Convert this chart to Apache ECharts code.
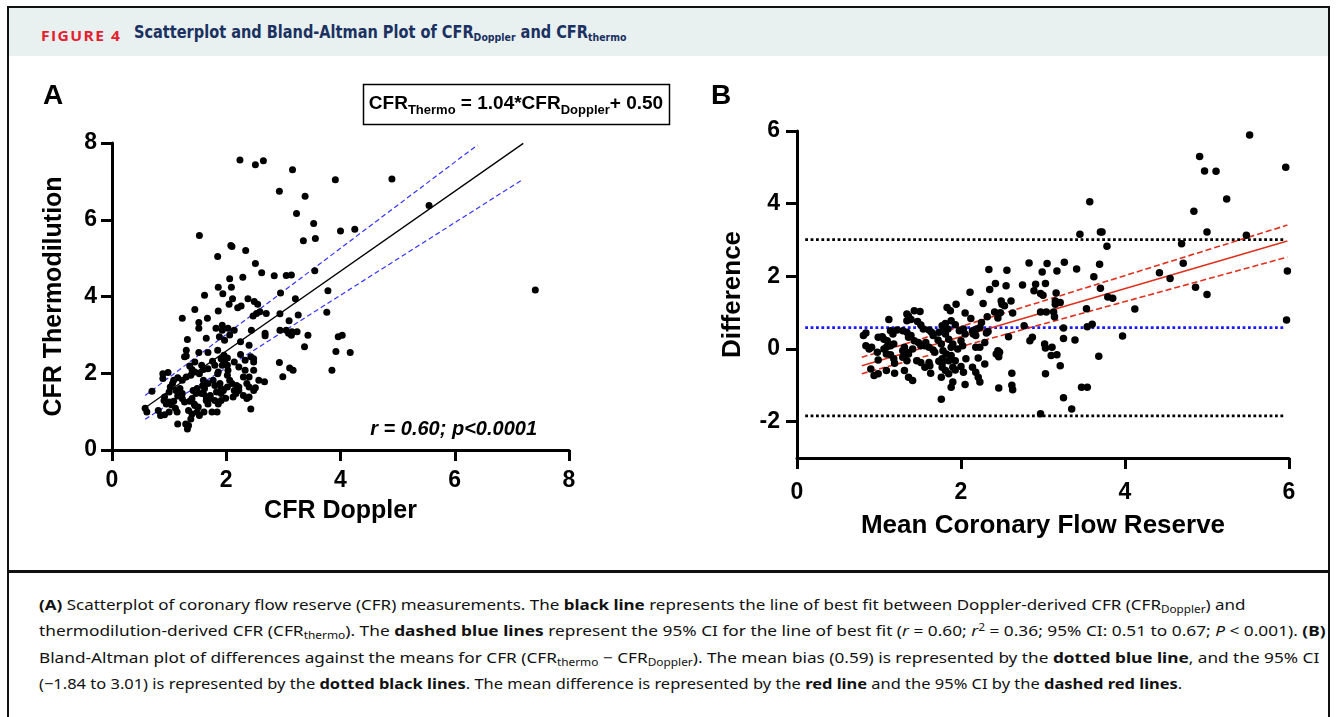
<!DOCTYPE html>
<html>
<head>
<meta charset="utf-8">
<script src="https://cdn.jsdelivr.net/npm/echarts@6/dist/echarts.min.js"></script>
<style>
html, body { margin: 0; padding: 0; background: #fff; }
#wrap { position: relative; width: 1336px; height: 717px; overflow: hidden; }
#frame { position: absolute; left: 7px; top: 6px; width: 1319px; height: 730px; border: 2px solid #111; border-bottom: none; }
#hdr { position: absolute; left: 9px; top: 8px; width: 1319px; height: 48px; background: #e8f0f0; }
#divider { position: absolute; left: 7px; top: 570px; width: 1323px; height: 3px; background: #111; }
.fit { position: absolute; white-space: nowrap; transform-origin: 0 50%; display: inline-block; }
#fig { left: 41px; top: 25px; color: #e5202e; font: bold 15px 'Open Sans', sans-serif; letter-spacing: 1.4px; }
#ttl { left: 134px; top: 22px; color: #1b3160; font: bold 17px 'Liberation Sans Narrow', 'DejaVu Sans Condensed', 'Open Sans', sans-serif; }
#ttl sub { font-size: 11px; vertical-align: -3px; }
.cap { left: 39px; color: #111; font: 14.5px 'Noto Sans', sans-serif; line-height: 20px; }
.cap sub { font-size: 10px; vertical-align: -3px; line-height: 0; }
.cap sup { font-size: 10px; vertical-align: 5px; line-height: 0; }
#chart { position: absolute; left: 0; top: 0; width: 1336px; height: 717px; z-index: 2; }
</style>
</head>
<body>
<div id="wrap">
  <div id="hdr"></div>
  <div id="frame"></div>
  <div id="divider"></div>
  <span id="fig" class="fit" data-w="80">FIGURE 4</span>
  <span id="ttl" class="fit" data-w="492">Scatterplot and Bland-Altman Plot of CFR<sub>Doppler</sub> and CFR<sub>thermo</sub></span>
  <span class="fit cap" style="top:594px" data-w="1207"><b>(A)</b> Scatterplot of coronary flow reserve (CFR) measurements. The <b>black line</b> represents the line of best fit between Doppler-derived CFR (CFR<sub>Doppler</sub>) and</span>
  <span class="fit cap" style="top:620px" data-w="1286">thermodilution-derived CFR (CFR<sub>thermo</sub>). The <b>dashed blue lines</b> represent the 95% CI for the line of best fit (<i>r</i> = 0.60; <i>r</i><sup>2</sup> = 0.36; 95% CI: 0.51 to 0.67; <i>P</i> &lt; 0.001). <b>(B)</b></span>
  <span class="fit cap" style="top:647px" data-w="1280">Bland-Altman plot of differences against the means for CFR (CFR<sub>thermo</sub> &minus; CFR<sub>Doppler</sub>). The mean bias (0.59) is represented by the <b>dotted blue line</b>, and the 95% CI</span>
  <span class="fit cap" style="top:673px" data-w="1143">(&minus;1.84 to 3.01) is represented by the <b>dotted black lines</b>. The mean difference is represented by the <b>red line</b> and the 95% CI by the <b>dashed red lines</b>.</span>
  <div id="chart"></div>
</div>
<script>
// 文本宽度对齐原图
var fits = document.querySelectorAll('.fit');
for (var k = 0; k < fits.length; k++) {
    var w = +fits[k].getAttribute('data-w');
    fits[k].style.transform = 'scaleX(' + (w / fits[k].offsetWidth) + ')';
}

// A: CFR Doppler vs CFR Thermodilution
var scatterA = [[2.24,7.56],[2.51,7.43],[2.65,7.54],[3.16,7.30],[3.91,7.04],[4.90,7.06],[2.93,6.74],[3.38,6.61],[5.55,6.37],[3.23,6.16],[3.53,5.90],[1.53,5.59],[4.00,5.71],[4.25,5.75],[3.35,5.45],[3.56,5.51],[2.08,5.33],[2.10,5.30],[1.85,5.04],[2.34,5.20],[2.51,4.86],[2.62,4.62],[2.84,4.54],[3.05,4.55],[3.14,4.56],[3.55,4.67],[2.06,4.46],[2.29,4.50],[1.86,4.24],[2.09,4.24],[1.94,4.07],[2.95,4.09],[3.78,4.15],[7.41,4.17],[1.62,4.03],[2.11,3.94],[2.38,3.94],[3.21,3.94],[2.05,3.80],[2.26,3.75],[2.20,3.71],[2.49,3.87],[2.55,3.80],[1.23,3.43],[1.45,3.66],[1.67,3.43],[1.52,3.32],[1.52,3.17],[1.86,3.62],[2.70,3.56],[2.53,3.56],[2.59,3.60],[2.47,3.49],[2.94,3.55],[3.26,3.52],[3.76,3.59],[3.10,3.37],[1.93,3.25],[1.93,3.12],[1.82,3.17],[2.03,3.17],[2.06,3.00],[2.14,3.12],[2.44,3.12],[2.68,3.04],[2.68,2.98],[2.94,3.12],[3.05,3.12],[3.09,3.04],[3.15,3.08],[3.24,3.08],[3.43,2.99],[3.14,2.99],[4.03,2.99],[3.96,2.95],[1.32,2.88],[1.65,2.91],[1.88,2.95],[1.97,2.86],[2.25,2.82],[3.37,2.69],[2.40,2.73],[1.30,2.60],[1.30,2.45],[1.27,2.43],[1.52,2.54],[1.68,2.54],[1.85,2.60],[3.92,2.57],[4.17,2.54],[1.96,2.47],[1.91,2.38],[2.02,2.40],[2.25,2.49],[2.43,2.43],[2.48,2.38],[1.45,2.29],[1.36,2.19],[1.57,2.21],[1.76,2.31],[1.80,2.21],[1.68,2.12],[1.60,2.10],[1.97,2.29],[1.93,2.21],[2.02,2.21],[2.14,2.29],[2.22,2.16],[2.33,2.34],[2.48,2.29],[2.93,2.28],[3.11,2.14],[3.17,2.08],[3.85,2.08],[1.40,2.10],[1.45,2.03],[1.53,1.99],[1.85,1.99],[1.86,2.03],[2.03,2.08],[2.02,1.95],[2.33,2.08],[2.30,1.90],[2.40,1.90],[2.48,2.08],[2.99,1.91],[0.89,1.99],[0.98,2.02],[0.89,1.86],[1.15,1.88],[1.23,1.82],[1.30,1.90],[1.38,1.95],[1.08,1.82],[1.06,1.73],[1.02,1.64],[1.60,1.82],[1.68,1.73],[1.59,1.68],[1.62,1.60],[1.77,1.82],[1.80,1.68],[1.89,1.73],[1.91,1.60],[1.83,1.51],[2.06,1.82],[2.10,1.73],[2.02,1.64],[2.18,1.68],[2.22,1.64],[2.14,1.55],[2.36,1.73],[2.40,1.64],[2.57,1.82],[2.67,1.78],[2.48,1.55],[2.51,1.62],[0.70,1.53],[1.00,1.51],[1.12,1.55],[1.19,1.60],[1.42,1.55],[1.49,1.60],[1.47,1.47],[1.57,1.47],[1.23,1.47],[1.15,1.41],[0.92,1.38],[1.60,1.47],[1.65,1.38],[1.72,1.42],[1.91,1.47],[1.95,1.55],[2.22,1.55],[2.17,1.47],[2.30,1.42],[1.99,1.35],[1.91,1.29],[2.12,1.38],[0.91,1.29],[0.95,1.20],[1.00,1.25],[1.08,1.27],[1.04,1.18],[1.23,1.34],[1.27,1.25],[1.40,1.34],[1.36,1.27],[1.44,1.20],[1.65,1.29],[1.72,1.34],[1.68,1.20],[1.80,1.29],[1.86,1.20],[2.36,1.34],[2.40,1.38],[1.45,1.16],[1.51,1.12],[0.58,1.09],[0.61,0.99],[0.81,1.03],[0.85,0.90],[0.92,0.92],[1.00,0.99],[1.11,1.09],[1.14,0.99],[1.34,1.03],[1.40,0.94],[1.49,0.99],[1.53,0.90],[1.61,0.99],[1.75,0.99],[1.84,0.99],[2.43,1.07],[1.15,0.68],[1.29,0.68],[1.34,0.64],[1.32,0.55],[1.38,0.81]];
var fitLineA = [[0.58, 1.10], [7.20, 7.99]];
var ciUpperA = [[0.58, 1.42], [6.40, 7.95]];
var ciLowerA = [[0.58, 0.80], [7.18, 7.04]];

// B: Bland-Altman
var scatterB = [[5.52,5.89],[4.91,5.30],[4.97,4.90],[5.11,4.89],[5.96,5.00],[5.24,4.13],[3.57,4.05],[4.84,3.79],[3.45,3.16],[3.70,3.22],[3.72,3.22],[5.00,3.22],[5.48,3.13],[3.78,2.83],[4.69,2.90],[4.71,2.36],[3.69,2.33],[2.83,2.37],[3.05,2.35],[3.26,2.39],[2.34,2.19],[2.56,2.17],[3.41,2.20],[2.99,2.12],[3.17,2.15],[5.98,2.15],[4.42,2.10],[3.62,1.99],[4.55,1.94],[2.42,1.80],[2.55,1.74],[2.75,1.76],[2.91,1.78],[3.03,1.80],[2.35,1.64],[3.70,1.67],[4.86,1.70],[2.11,1.56],[2.89,1.60],[2.97,1.53],[3.00,1.48],[3.16,1.54],[5.00,1.50],[3.79,1.43],[3.85,1.40],[2.49,1.32],[2.61,1.32],[2.50,1.23],[2.53,1.19],[2.27,1.25],[1.94,1.23],[1.83,1.14],[1.87,1.05],[3.15,1.32],[3.21,1.28],[3.15,1.23],[3.53,1.11],[4.12,1.10],[1.43,1.05],[1.50,1.03],[1.12,0.81],[1.34,0.96],[2.41,1.02],[2.48,1.00],[2.63,0.99],[2.05,0.99],[2.12,0.84],[2.32,0.89],[2.45,0.85],[2.97,1.02],[3.04,1.02],[3.13,1.02],[3.14,0.89],[1.36,0.90],[1.39,0.81],[1.34,0.78],[1.47,0.76],[1.51,0.66],[1.54,0.55],[5.97,0.80],[1.88,0.78],[1.81,0.70],[1.77,0.64],[1.84,0.55],[1.93,0.67],[2.25,0.73],[2.23,0.59],[2.19,0.55],[2.77,0.64],[3.25,0.58],[3.54,0.61],[3.60,0.68],[0.84,0.44],[0.81,0.37],[1.14,0.50],[1.22,0.52],[1.17,0.41],[1.29,0.50],[1.34,0.46],[1.39,0.37],[1.36,0.32],[1.61,0.52],[1.64,0.46],[1.66,0.37],[1.73,0.46],[1.78,0.48],[1.81,0.41],[1.98,0.50],[2.03,0.55],[2.05,0.41],[2.14,0.50],[2.15,0.41],[2.18,0.37],[2.31,0.44],[2.33,0.48],[2.58,0.34],[2.87,0.32],[2.84,0.23],[3.97,0.36],[0.99,0.32],[1.06,0.27],[1.04,0.34],[1.10,0.23],[1.18,0.14],[1.14,0.09],[1.43,0.23],[1.48,0.18],[1.51,0.09],[1.57,0.18],[1.56,0.09],[1.72,0.25],[1.76,0.14],[1.85,0.27],[1.90,0.14],[1.88,0.05],[2.00,0.23],[2.02,0.09],[1.96,0.00],[2.29,0.18],[3.39,0.25],[3.25,0.29],[0.84,0.09],[0.88,0.00],[0.91,0.05],[1.06,0.00],[1.09,0.05],[1.31,0.05],[1.29,-0.05],[1.34,-0.09],[1.41,0.00],[1.36,-0.14],[1.61,0.05],[1.66,-0.03],[1.68,-0.09],[1.78,-0.05],[1.82,-0.14],[2.18,0.05],[2.23,0.05],[2.45,-0.05],[2.47,-0.09],[3.02,0.14],[3.03,0.03],[3.11,0.05],[0.98,-0.09],[0.99,-0.30],[1.09,-0.14],[1.14,-0.16],[1.18,-0.27],[1.19,-0.39],[1.29,-0.23],[1.34,-0.32],[1.46,-0.32],[1.51,-0.37],[1.61,-0.37],[1.62,-0.46],[1.73,-0.34],[1.77,-0.27],[1.77,-0.39],[1.85,-0.32],[1.88,-0.18],[1.93,-0.32],[2.06,-0.27],[2.21,-0.25],[2.43,-0.14],[2.46,-0.21],[3.10,-0.18],[3.17,-0.16],[3.68,-0.20],[0.90,-0.55],[0.94,-0.73],[0.99,-0.68],[1.09,-0.59],[1.19,-0.67],[1.31,-0.59],[1.36,-0.78],[1.41,-0.87],[1.56,-0.50],[1.63,-0.67],[1.77,-0.50],[1.81,-0.59],[1.90,-0.50],[1.93,-0.58],[1.85,-0.68],[2.00,-0.48],[2.03,-0.64],[2.14,-0.50],[2.18,-0.64],[2.29,-0.41],[2.62,-0.67],[3.03,-0.68],[3.21,-0.46],[1.76,-0.78],[2.21,-0.78],[2.23,-0.91],[1.90,-0.91],[1.88,-1.05],[2.05,-0.98],[2.46,-1.07],[2.62,-1.00],[2.63,-1.12],[3.47,-1.05],[3.54,-1.05],[1.76,-1.38],[3.25,-1.34],[3.35,-1.65],[2.97,-1.78]];
var meanLineB = [[0.79, -0.46], [5.98, 2.97]];
var ciUpperB = [[0.79, -0.23], [5.98, 3.41]];
var ciLowerB = [[0.79, -0.68], [5.98, 2.53]];
var bias = 0.59;
var loaUpper = 3.01;
var loaLower = -1.84;
var limitRange = [0.1, 5.96];

var ticksBy = [-2, 0, 2, 4, 6];

var FONT = '"Liberation Sans", Arial, sans-serif';

function hline(v) {
    return [[limitRange[0], v], [limitRange[1], v]];
}

function axisBase(name, gap, labelMargin, nameSize) {
    return {
        type: 'value',
        name: name,
        nameLocation: 'middle',
        nameGap: gap,
        nameTextStyle: { fontFamily: FONT, fontWeight: 'bold', fontSize: nameSize, color: '#000' },
        axisLine: { show: true, onZero: false, lineStyle: { color: '#000', width: 3 } },
        axisTick: { show: true, length: 11, lineStyle: { color: '#000', width: 3 } },
        axisLabel: { fontFamily: FONT, fontWeight: 'bold', fontSize: 23, color: '#000', margin: labelMargin },
        splitLine: { show: false }
    };
}

function lineSeries(data, xi, color, width, type) {
    return {
        type: 'line', xAxisIndex: xi, yAxisIndex: xi, data: data,
        showSymbol: false, silent: true, animation: false,
        lineStyle: { color: color, width: width, type: type, cap: 'butt' },
        z: 3
    };
}

var chart = echarts.init(document.getElementById('chart'), null, { renderer: 'canvas' });

var xA = axisBase('CFR Doppler', 49, 19, 25);
xA.gridIndex = 0; xA.min = 0; xA.max = 8; xA.interval = 2;
var yA = axisBase('CFR Thermodilution', 45, 15, 25);
yA.gridIndex = 0; yA.min = 0; yA.max = 8; yA.interval = 2;

var xB = axisBase('Mean Coronary Flow Reserve', 55, 23, 26);
xB.gridIndex = 1; xB.min = 0; xB.max = 6; xB.interval = 2;
var yB = axisBase('Difference', 51, 17, 26);
yB.gridIndex = 1; yB.min = -3; yB.max = 6;
yB.axisTick.customValues = ticksBy;
yB.axisLabel.customValues = ticksBy;

var option = {
    animation: false,
    grid: [
        { left: 112, top: 143, width: 457, height: 307 },
        { left: 797, top: 131, width: 492, height: 327 }
    ],
    xAxis: [xA, xB],
    yAxis: [yA, yB],
    series: [
        lineSeries(ciUpperA, 0, '#3535ff', 1.2, [5, 3]),
        lineSeries(ciLowerA, 0, '#3535ff', 1.2, [5, 3]),
        lineSeries(fitLineA, 0, '#000', 1.3, 'solid'),
        {
            type: 'scatter', xAxisIndex: 0, yAxisIndex: 0, data: scatterA,
            symbolSize: 7, itemStyle: { color: '#000', opacity: 1 }, z: 4
        },
        lineSeries(hline(loaUpper), 1, '#000', 2.8, [2.8, 2.6]),
        lineSeries(hline(loaLower), 1, '#000', 2.8, [2.8, 2.6]),
        lineSeries(hline(bias), 1, '#1a1aff', 2.8, [2.8, 2.6]),
        lineSeries(ciUpperB, 1, '#e0301e', 1.6, [6, 3]),
        lineSeries(ciLowerB, 1, '#e0301e', 1.6, [6, 3]),
        lineSeries(meanLineB, 1, '#e0301e', 1.6, 'solid'),
        {
            type: 'scatter', xAxisIndex: 1, yAxisIndex: 1, data: scatterB,
            symbolSize: 7.5, itemStyle: { color: '#000', opacity: 1 }, z: 4
        }
    ],
    graphic: [
        { type: 'text', left: 43, top: 82, style: { text: 'A', fontFamily: FONT, fontWeight: 'bold', fontSize: 28, fill: '#000' } },
        { type: 'text', left: 711, top: 82, style: { text: 'B', fontFamily: FONT, fontWeight: 'bold', fontSize: 28, fill: '#000' } },
        { type: 'rect', shape: { x: 363.5, y: 84.5, width: 306, height: 40 }, style: { fill: '#fff', stroke: '#000', lineWidth: 1.5 } },
        {
            type: 'text', x: 516, y: 104,
            style: {
                text: '{b|CFR}{s|Thermo}{b| = 1.04*CFR}{s|Doppler}{b|+ 0.50}',
                align: 'center', verticalAlign: 'middle',
                rich: {
                    b: { fontFamily: FONT, fontWeight: 'bold', fontSize: 19, fill: '#000', verticalAlign: 'middle' },
                    s: { fontFamily: FONT, fontWeight: 'bold', fontSize: 13, fill: '#000', padding: [12, 0, 0, 0], verticalAlign: 'middle' }
                }
            }
        },
        {
            type: 'text', x: 537, y: 429,
            style: {
                text: 'r = 0.60; p<0.0001', align: 'right', verticalAlign: 'middle',
                fontFamily: FONT, fontWeight: 'bold', fontStyle: 'italic', fontSize: 20, fill: '#000'
            }
        }
    ]
};

chart.setOption(option);
window.onresize = function () { chart.resize(); };
</script>
</body>
</html>
